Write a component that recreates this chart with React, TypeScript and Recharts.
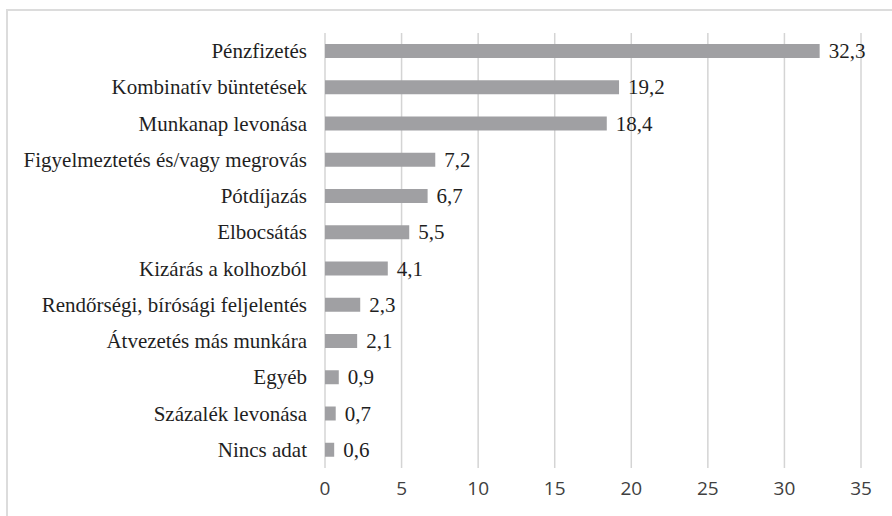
import React from "react";
import { BarChart, Bar, XAxis, YAxis, CartesianGrid, LabelList } from "recharts";

const categories = [
  "Pénzfizetés",
  "Kombinatív büntetések",
  "Munkanap levonása",
  "Figyelmeztetés és/vagy megrovás",
  "Pótdíjazás",
  "Elbocsátás",
  "Kizárás a kolhozból",
  "Rendőrségi, bírósági feljelentés",
  "Átvezetés más munkára",
  "Egyéb",
  "Százalék levonása",
  "Nincs adat",
];
const values = [32.3, 19.2, 18.4, 7.2, 6.7, 5.5, 4.1, 2.3, 2.1, 0.9, 0.7, 0.6];
const xTicks = [0, 5, 10, 15, 20, 25, 30, 35];

const data = categories.map((name, i) => ({ name, value: values[i] }));

const SERIF = "Liberation Serif";
const SANS = "Open Sans";

const fmt = (v: any) => String(v).replace(".", ",");

const CatTick = (props: any) => {
  const { x, y, payload } = props;
  return (
    <text
      x={x}
      y={y}
      textAnchor="end"
      dominantBaseline="central"
      style={{ fontFamily: SERIF, fontSize: 21, fill: "#1f1f1f" }}
    >
      {payload.value}
    </text>
  );
};

const NumTick = (props: any) => {
  const { x, y, payload } = props;
  return (
    <text
      x={x}
      y={y}
      textAnchor="middle"
      dominantBaseline="central"
      style={{ fontFamily: SANS, fontSize: 19, fill: "#404040" }}
    >
      {payload.value}
    </text>
  );
};

const ValueLabel = (props: any) => {
  const { x, y, width, height, value } = props;
  return (
    <text
      x={Number(x) + Number(width) + 9}
      y={Number(y) + Number(height) / 2}
      textAnchor="start"
      dominantBaseline="central"
      style={{ fontFamily: SERIF, fontSize: 21, fill: "#1f1f1f" }}
    >
      {fmt(value)}
    </text>
  );
};

export default function App() {
  return (
    <div style={{ position: "absolute", left: 0, top: 0, width: 892, height: 516, background: "#fff" }}>
      <div
        style={{
          position: "absolute",
          left: 6,
          top: 9,
          width: 886,
          height: 507,
          borderTop: "2px solid #dcdcdc",
          borderLeft: "2px solid #dcdcdc",
          boxSizing: "border-box",
        }}
      />
      <div style={{ position: "absolute", left: 0, top: 0 }}>
        <BarChart
          width={892}
          height={516}
          data={data}
          layout="vertical"
          margin={{ top: 33, right: 31, bottom: 8, left: 0 }}
          barCategoryGap={0}
        >
          <CartesianGrid horizontal={false} vertical={true} stroke="#d4d4d4" strokeWidth={1.5} />
          <XAxis
            type="number"
            domain={[0, 35]}
            ticks={xTicks}
            axisLine={false}
            tickLine={false}
            tickMargin={14}
            height={40}
            tick={<NumTick />}
          />
          <YAxis
            type="category"
            dataKey="name"
            width={325}
            axisLine={false}
            tickLine={false}
            tickMargin={12}
            interval={0}
            tick={<CatTick />}
          />
          <Bar dataKey="value" fill="#a0a0a3" barSize={14} isAnimationActive={false}>
            <LabelList dataKey="value" content={<ValueLabel />} />
          </Bar>
        </BarChart>
      </div>
    </div>
  );
}
